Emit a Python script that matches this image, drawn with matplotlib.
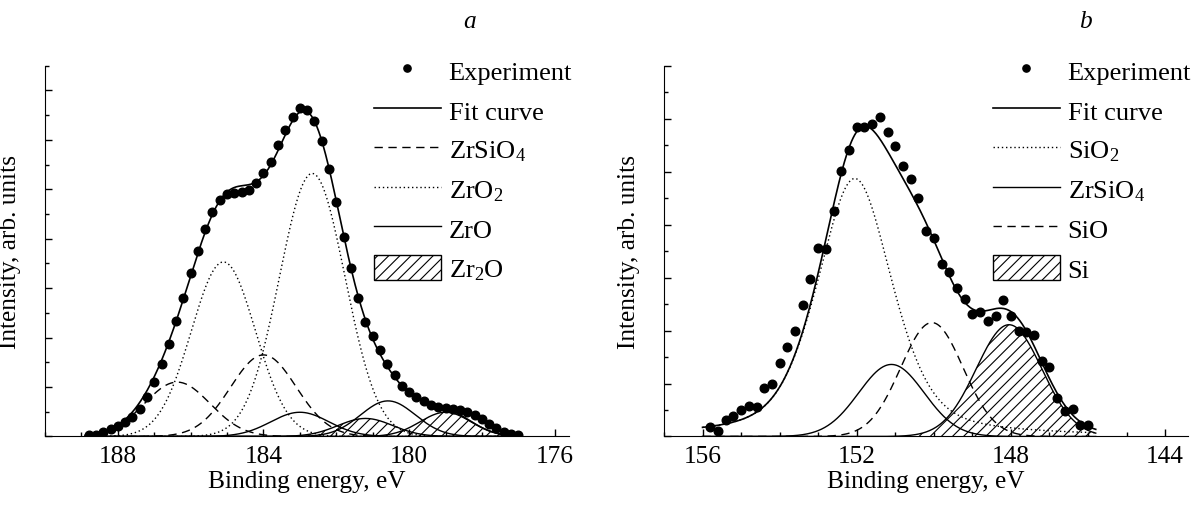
import numpy as np
import matplotlib
matplotlib.use('Agg')
import matplotlib.pyplot as plt
from matplotlib.lines import Line2D
from matplotlib.patches import Patch
from matplotlib.ticker import MultipleLocator, NullFormatter

plt.rcParams['font.family'] = ['Liberation Serif', 'DejaVu Serif']
plt.rcParams['mathtext.fontset'] = 'custom'
plt.rcParams['mathtext.rm'] = 'Liberation Serif'
plt.rcParams['mathtext.it'] = 'Liberation Serif:italic'
plt.rcParams['font.size'] = 18.3
plt.rcParams['hatch.linewidth'] = 0.8

# --- panel a: Zr 3d ---
zr_energy = [188.8, 188.6, 188.4, 188.2, 188.0, 187.8, 187.6, 187.4, 187.2, 187.0,
             186.8, 186.6, 186.4, 186.2, 186.0, 185.8, 185.6, 185.4, 185.2, 185.0,
             184.8, 184.6, 184.4, 184.2, 184.0, 183.8, 183.6, 183.4, 183.2, 183.0,
             182.8, 182.6, 182.4, 182.2, 182.0, 181.8, 181.6, 181.4, 181.2, 181.0,
             180.8, 180.6, 180.4, 180.2, 180.0, 179.8, 179.6, 179.4, 179.2, 179.0,
             178.8, 178.6, 178.4, 178.2, 178.0, 177.8, 177.6, 177.4, 177.2, 177.0]
zr_counts = [0.02, 0.04, 0.09, 0.16, 0.22, 0.30, 0.39, 0.56, 0.80, 1.10,
             1.47, 1.88, 2.33, 2.80, 3.30, 3.76, 4.19, 4.55, 4.78, 4.91,
             4.93, 4.95, 4.99, 5.12, 5.32, 5.56, 5.89, 6.20, 6.47, 6.64,
             6.61, 6.39, 5.98, 5.41, 4.74, 4.04, 3.40, 2.80, 2.32, 2.03,
             1.74, 1.47, 1.24, 1.03, 0.90, 0.80, 0.71, 0.63, 0.59, 0.57,
             0.56, 0.53, 0.49, 0.43, 0.36, 0.26, 0.17, 0.09, 0.05, 0.03]

# fitted peaks (3d5/2, 3d3/2): centre, height, fwhm
zrsio4_a = dict(c=[186.37, 184.0], h=[1.10, 1.65], w=[2.12, 2.12])
zro2_a = dict(c=[185.1, 182.66], h=[3.53, 5.32], w=[2.07, 2.12])
zro_a = dict(c=[183.0, 180.58], h=[0.49, 0.72], w=[1.88, 1.77])
zr2o_a = dict(c=[181.2, 179.0], h=[0.365, 0.49], w=[1.77, 1.65])

# --- panel b: Si 2p ---
si_energy = [155.8, 155.6, 155.4, 155.2, 155.0, 154.8, 154.6, 154.4, 154.2, 154.0,
             153.8, 153.6, 153.4, 153.2, 153.0, 152.8, 152.6, 152.4, 152.2, 152.0,
             151.8, 151.6, 151.4, 151.2, 151.0, 150.8, 150.6, 150.4, 150.2, 150.0,
             149.8, 149.6, 149.4, 149.2, 149.0, 148.8, 148.6, 148.4, 148.2, 148.0,
             147.8, 147.6, 147.4, 147.2, 147.0, 146.8, 146.6, 146.4, 146.2, 146.0]
si_counts = [0.17, 0.10, 0.31, 0.38, 0.50, 0.57, 0.56, 0.92, 1.00, 1.38,
             1.69, 2.00, 2.49, 2.97, 3.56, 3.54, 4.26, 5.01, 5.40, 5.84,
             5.84, 5.90, 6.03, 5.75, 5.49, 5.10, 4.87, 4.50, 3.87, 3.75,
             3.26, 3.11, 2.80, 2.60, 2.31, 2.35, 2.18, 2.28, 2.58, 2.27,
             2.00, 1.98, 1.92, 1.42, 1.31, 0.73, 0.49, 0.52, 0.22, 0.22]

sio2_b = dict(c=[152.05], h=[4.87], w=[2.3], eta=0.45)
zrsio4_b = dict(c=[151.1], h=[1.36], w=[2.0])
sio_b = dict(c=[150.05], h=[2.15], w=[1.9])
si_b = dict(c=[148.05], h=[2.11], w=[2.0])


def peak_list(x, p):
    # one curve per fitted peak
    eta = p.get('eta', 0.0)
    out = []
    for c, h, w in zip(p['c'], p['h'], p['w']):
        u = (x - c) / (w / 2)
        out.append(h * (eta / (1 + u ** 2) + (1 - eta) * np.exp(-np.log(2) * u ** 2)))
    return out


def style_axes(ax, xlim, ylim, ticks):
    ax.set_xlim(*xlim)
    ax.set_ylim(*ylim)
    ax.spines['top'].set_visible(False)
    ax.spines['right'].set_visible(False)
    ax.set_xticks(ticks)
    ax.xaxis.set_minor_locator(MultipleLocator(1))
    ax.yaxis.set_major_locator(MultipleLocator(1))
    ax.yaxis.set_minor_locator(MultipleLocator(0.5))
    ax.yaxis.set_major_formatter(NullFormatter())
    ax.tick_params(which='both', direction='in', width=1.0)
    ax.tick_params(which='major', length=5, pad=6)
    ax.tick_params(which='minor', length=2.8)
    ax.set_xlabel('Binding energy, eV', labelpad=2)
    ax.set_ylabel('Intensity, arb. units')
    ax.yaxis.set_label_coords(-0.045, 0.5)


def draw_component(ax, x, p, ls='-', hatched=False):
    total = np.zeros_like(x)
    for y in peak_list(x, p):
        if hatched:
            ax.fill_between(x, 0, y, facecolor='none', edgecolor='black',
                            hatch='///', linewidth=0)
        ax.plot(x, y, color='black', lw=1.0, ls=ls)
        total += y
    return total


fig = plt.figure(figsize=(11.94, 5.06), dpi=100)
ax1 = fig.add_axes([0.0377, 0.1354, 0.4391, 0.7328])
ax2 = fig.add_axes([0.5561, 0.1354, 0.4391, 0.7328])

dots = dict(ls='none', marker='o', ms=6.2, color='black')
dotted = (0, (1, 2))
dashed = (0, (6, 4))

# panel a
xa = np.linspace(188.9, 177.0, 500)
fit_a = draw_component(ax1, xa, zr2o_a, hatched=True)
fit_a += draw_component(ax1, xa, zro_a)
fit_a += draw_component(ax1, xa, zro2_a, ls=dotted)
fit_a += draw_component(ax1, xa, zrsio4_a, ls=dashed)
ax1.plot(xa, fit_a, color='black', lw=1.2)
ax1.plot(zr_energy, zr_counts, **dots)
style_axes(ax1, (190, 175.6), (0, 7.5), [188, 184, 180, 176])

# panel b
xb = np.linspace(156.0, 145.8, 500)
fit_b = draw_component(ax2, xb, si_b, hatched=True)
fit_b += draw_component(ax2, xb, sio2_b, ls=dotted)
fit_b += draw_component(ax2, xb, zrsio4_b)
fit_b += draw_component(ax2, xb, sio_b, ls=dashed)
ax2.plot(xb, fit_b, color='black', lw=1.2)
ax2.plot(si_energy, si_counts, **dots)
style_axes(ax2, (157, 143.4), (0, 7), [156, 152, 148, 144])


def legend(ax, labels, styles):
    handles = [Line2D([], [], ls='none', marker='o', ms=5.2, color='black'),
               Line2D([], [], color='black', lw=1.2)]
    for st in styles:
        if st == 'hatch':
            handles.append(Patch(facecolor='white', edgecolor='black', hatch='///', lw=1.0))
        else:
            handles.append(Line2D([], [], color='black', lw=1.0, ls=st))
    ax.legend(handles, labels, loc='upper right', bbox_to_anchor=(1.005, 1.022),
              frameon=False, fontsize=19, handlelength=2.52, handleheight=1.12,
              handletextpad=0.3, labelspacing=0.47, borderpad=0, borderaxespad=0,
              numpoints=1)


legend(ax1, ['Experiment', 'Fit curve', 'ZrSiO$_4$', 'ZrO$_2$', 'ZrO', 'Zr$_2$O'],
       [dashed, dotted, '-', 'hatch'])
legend(ax2, ['Experiment', 'Fit curve', 'SiO$_2$', 'ZrSiO$_4$', 'SiO', 'Si'],
       [dotted, '-', dashed, 'hatch'])

fig.text(470 / 1194, 1 - 22 / 506, 'a', style='italic', ha='center', va='center')
fig.text(1085 / 1194, 1 - 22 / 506, 'b', style='italic', ha='center', va='center')

fig.savefig('out.png', dpi=100)
